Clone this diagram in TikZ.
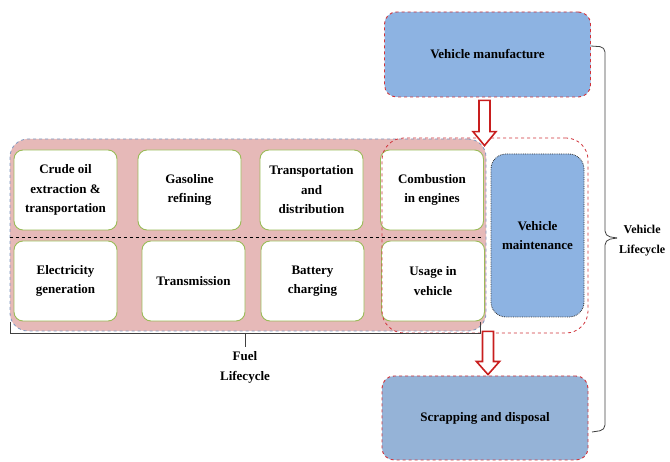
\documentclass[tikz,border=0pt]{standalone}
\usepackage{fontspec}
\setmainfont{Liberation Serif}
\usetikzlibrary{calc}

\definecolor{fuelpink}{HTML}{E6B9B8}
\definecolor{vehblue}{HTML}{8DB3E2}
\definecolor{scrapblue}{HTML}{95B3D7}
\definecolor{boxgreen}{HTML}{9BBB59}
\definecolor{dashred}{HTML}{D0333A}
\definecolor{arrowred}{HTML}{C81E1E}
\definecolor{dashblue}{HTML}{7F98C0}

\begin{document}
\begin{tikzpicture}[
        x=1pt, y=-1pt,
        every node/.style={font=\fontsize{13}{19.5}\selectfont\bfseries, align=center},
        stage/.style={
            draw=boxgreen,
            line width=0.9pt,
            fill=white,
            rounded corners=9pt,
            minimum width=103pt,
            minimum height=80pt,
            inner sep=0pt
        },
        vehbox/.style={
            draw=dashred,
            dashed,
            line width=0.9pt,
            fill=vehblue,
            rounded corners=12pt,
            minimum width=206pt,
            minimum height=85pt,
            inner sep=0pt
        },
        group/.style={
            dashed,
            line width=0.8pt,
            inner sep=0pt
        },
        hollow/.style={draw=arrowred, fill=white, line width=1.6pt, line join=miter},
        bracket/.style={draw=black!75, line width=0.8pt},
        label/.style={font=\fontsize{13}{20}\selectfont\bfseries}
    ]

    \clip (0,0) rectangle (670,462);

    % Fuel lifecycle group
    \node[group, draw=dashblue, fill=fuelpink, rounded corners=18pt,
          minimum width=476pt, minimum height=192pt] (fuelgrp) at (248,235) {};
    \draw[dashed, line width=0.7pt] (fuelgrp.west |- 0,237) -- (483,237);

    % Fuel stages - top row
    \node[stage] (crude)     at (65.5,190)  {Crude oil\\extraction \&\\transportation};
    \node[stage] (gasoline)  at (189.5,190) {Gasoline\\refining};
    \node[stage] (transport) at (311.5,190) {Transportation\\and\\distribution};
    \node[stage] (combust)   at (432,190)   {Combustion\\in engines};

    % Fuel stages - bottom row
    \node[stage] (elec)      at (65.5,281)  {Electricity\\generation};
    \node[stage] (transmit)  at (193.5,281) {Transmission};
    \node[stage] (battery)   at (312.5,281) {Battery\\charging};
    \node[stage] (usage)     at (433,281)   {Usage in\\vehicle};

    % Vehicle use group
    \node[group, draw=dashred, rounded corners=22pt,
          minimum width=206pt, minimum height=195pt] (usegrp) at (485,235.5) {};
    \node[draw=black!80, densely dotted, line width=0.8pt, fill=vehblue,
          rounded corners=15pt, minimum width=93pt, minimum height=163pt,
          inner sep=0pt] (maint) at (537.5,235.5) {Vehicle\\maintenance};

    % Vehicle stages
    \node[vehbox] (manuf) at (487.5,54.5) {Vehicle manufacture};
    \node[vehbox, fill=scrapblue, minimum height=84pt] (scrap) at (485,418) {Scrapping and disposal};

    % Hollow arrows
    \coordinate (a1s) at ($(manuf.south)+(-3,3)$);
    \coordinate (a1t) at ($(usegrp.north)+(-0.5,8)$);
    \draw[hollow] ($(a1s)+(-5.5,0)$) -- ($(a1s)+(5.5,0)$) -- ($(a1t)+(5.5,-14)$)
        -- ($(a1t)+(11.5,-14)$) -- (a1t) -- ($(a1t)+(-11.5,-14)$) -- ($(a1t)+(-5.5,-14)$) -- cycle;
    \coordinate (a2s) at ($(usegrp.south)+(3,-2)$);
    \coordinate (a2t) at ($(scrap.north)+(3,-1)$);
    \draw[hollow] ($(a2s)+(-5.5,0)$) -- ($(a2s)+(5.5,0)$) -- ($(a2t)+(5.5,-13)$)
        -- ($(a2t)+(11.5,-13)$) -- (a2t) -- ($(a2t)+(-11.5,-13)$) -- ($(a2t)+(-5.5,-13)$) -- cycle;

    % Fuel lifecycle bracket
    \coordinate (fb) at (245,347);
    \draw[bracket] (10,322) -- (10,333) -- (480,333) -- (480,322);
    \draw[bracket] (245,333) -- (fb);
    \node[label, anchor=north] (fuellab) at ($(fb)+(0,1)$) {Fuel\\Lifecycle};

    % Vehicle lifecycle bracket
    \coordinate (vb) at (617,238);
    \draw[bracket, rounded corners=5pt] (manuf.east |- 0,46) -- (605,47) -- (605,236) -- (vb);
    \draw[bracket, rounded corners=5pt] (vb) -- (605,240) -- (605,430) -- (592,432);
    \node[label, font=\fontsize{12}{20}\selectfont\bfseries, anchor=west, inner sep=0pt]
        (vehlab) at ($(vb)+(2,3)$) {Vehicle\\Lifecycle};

\end{tikzpicture}
\end{document}
